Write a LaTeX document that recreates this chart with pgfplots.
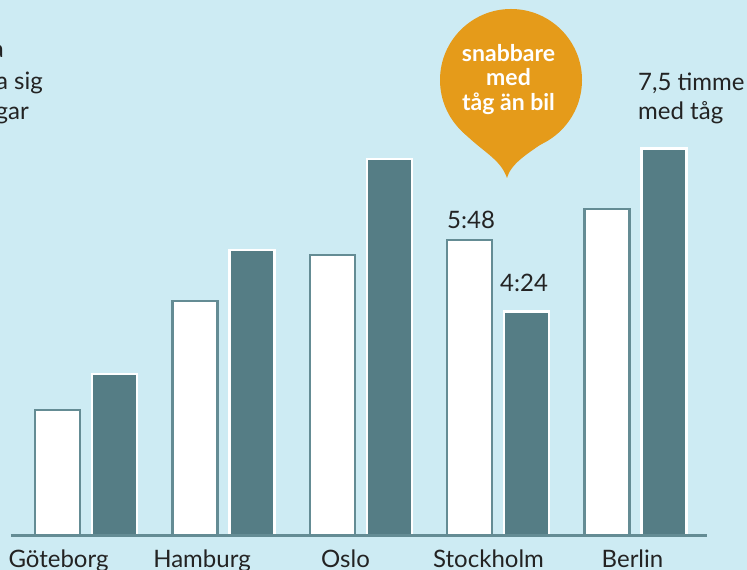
\documentclass[border=0pt]{standalone}
\usepackage{fontspec}
\setmainfont{Lato}
\usepackage{pgfplots}
\pgfplotsset{compat=1.18}
\definecolor{bgblue}{RGB}{205,235,243}
\definecolor{trainteal}{RGB}{85,125,133}
\definecolor{edgeteal}{RGB}{100,140,148}
\definecolor{bubbleorange}{RGB}{229,155,26}
\definecolor{inkgray}{RGB}{35,35,35}

% travel time in hours: car (white) and train (teal)
\pgfplotstableread{
x car  train
0 2.47 3.18
1 4.61 5.61
2 5.51 7.39
3 5.80 4.40
4 6.41 7.60
}\traveltimes

\begin{document}
\begin{tikzpicture}[x=1pt,y=1pt]
\useasboundingbox (0,0) rectangle (747,570);
\clip (0,0) rectangle (747,570);
\fill[bgblue] (0,0) rectangle (747,570);

\begin{axis}[
    at={(0,0)}, anchor=south west,
    scale only axis,
    width=747pt, height=570pt,
    xmin=-0.6259, xmax=4.8108,
    ymin=-0.667, ymax=10.51,
    hide axis,
    ybar,
    bar width=45pt,
    clip=false,
]
\addplot[fill=white, draw=edgeteal, line width=2.5pt, bar shift=-28.5pt]
    table[x=x, y=car] {\traveltimes};
\addplot[fill=trainteal, draw=white, line width=2.5pt, bar shift=28.5pt]
    table[x=x, y=train] {\traveltimes};
\draw[edgeteal, line width=3pt] (axis cs:-0.546,0) -- (axis cs:4.52,0);
\end{axis}

% category labels
\begin{scope}[font=\fontsize{24}{28}\selectfont, text=inkgray]
\node[anchor=base] at (58.5,2) {Göteborg};
\node[anchor=base] at (202,2) {Hamburg};
\node[anchor=base] at (345.5,2) {Oslo};
\node[anchor=base] at (488.5,2) {Stockholm};
\node[anchor=base] at (632.5,2) {Berlin};

% value notes
\node[anchor=base west, inner sep=0pt] at (447,341) {5:48};
\node[anchor=base west, inner sep=0pt] at (500,278) {4:24};
\node[anchor=base west, inner sep=0pt] at (638,479) {7,5 timme};
\node[anchor=base west, inner sep=0pt] at (638,450) {med tåg};

% cut-off intro text at the left edge
\node[anchor=base east, inner sep=0pt] at (4,512) {a};
\node[anchor=base east, inner sep=0pt] at (43,480) {a sig};
\node[anchor=base east, inner sep=0pt] at (29,450) {gar};
\end{scope}

% speech bubble
\fill[bubbleorange] (511,490) circle (71);
\fill[bubbleorange] (461,440) .. controls (482,418) and (500,412) .. (507,392)
    .. controls (512,410) and (535,420) .. (561,440) -- (511,480) -- cycle;
\begin{scope}[font=\bfseries\fontsize{23}{27}\selectfont, text=white]
\node[anchor=base] at (508.5,508) {snabbare};
\node[anchor=base] at (508.5,484) {med};
\node[anchor=base] at (508.5,459) {tåg än bil};
\end{scope}
\end{tikzpicture}
\end{document}
